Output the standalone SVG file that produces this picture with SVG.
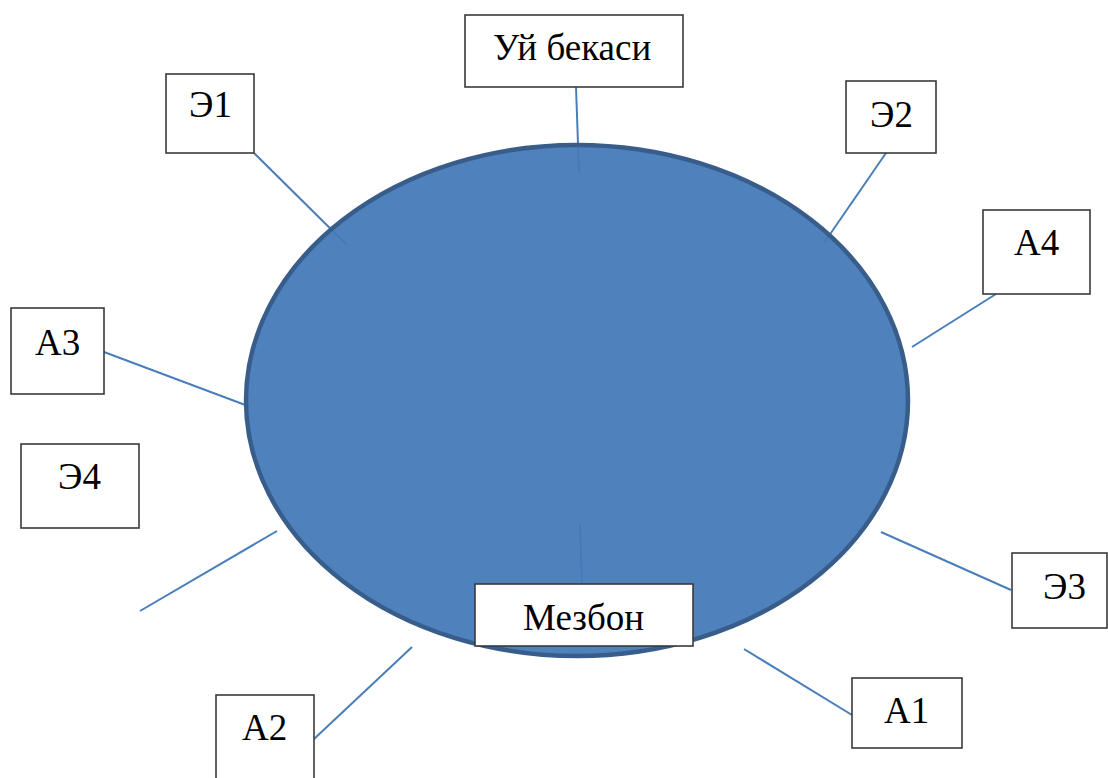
<svg xmlns="http://www.w3.org/2000/svg" width="1108" height="778" viewBox="0 0 1108 778">
<style>
.box{fill:#fff;stroke:#3a3a3a;stroke-width:1.6}
.lbl{font-family:"Liberation Serif","Times New Roman",serif;font-size:37px;fill:#000}
.conn{stroke:#4a7ebb;stroke-width:2;fill:none}
</style>
<rect width="1108" height="778" fill="#fff"/>
<g id="connectors">
<line class="conn" x1="576" y1="87" x2="579" y2="172"/>
<line class="conn" x1="254" y1="153" x2="347" y2="245"/>
<line class="conn" x1="886" y1="153" x2="824" y2="243"/>
<line class="conn" x1="996" y1="294" x2="912" y2="347"/>
<line class="conn" x1="104" y1="352" x2="248" y2="406"/>
<line class="conn" x1="277" y1="531" x2="140" y2="611"/>
<line class="conn" x1="314" y1="739" x2="412" y2="647"/>
<line class="conn" x1="881" y1="532" x2="1011" y2="590"/>
<line class="conn" x1="744" y1="649" x2="852" y2="715"/>
<line class="conn" x1="580" y1="524" x2="582" y2="584"/>
</g>
<g id="center">
<ellipse cx="577" cy="400.5" rx="331" ry="255.5" fill="#4278b8" fill-opacity="0.93" stroke="#385d8a" stroke-width="4.5"/>
</g>
<g id="uy-bekasi"><rect class="box" x="465" y="15" width="218" height="72"/><text class="lbl" x="493" y="60">Уй бекаси</text></g>
<g id="e1"><rect class="box" x="166" y="74" width="88" height="79"/><text class="lbl" x="189" y="117">Э1</text></g>
<g id="e2"><rect class="box" x="846" y="81" width="90" height="72"/><text class="lbl" x="870" y="127">Э2</text></g>
<g id="a4"><rect class="box" x="983" y="210" width="107" height="84"/><text class="lbl" x="1014" y="255">А4</text></g>
<g id="a3"><rect class="box" x="11" y="308" width="93" height="86"/><text class="lbl" x="35" y="355">А3</text></g>
<g id="e4"><rect class="box" x="21" y="444" width="118" height="84"/><text class="lbl" x="58" y="489">Э4</text></g>
<g id="e3"><rect class="box" x="1012" y="553" width="95" height="75"/><text class="lbl" x="1043" y="599">Э3</text></g>
<g id="mezbon"><rect class="box" x="475" y="584" width="218" height="62"/><text class="lbl" x="523" y="630">Мезбон</text></g>
<g id="a1"><rect class="box" x="852" y="678" width="110" height="70"/><text class="lbl" x="884" y="723">А1</text></g>
<g id="a2"><rect class="box" x="216" y="695" width="98" height="100"/><text class="lbl" x="242" y="740">А2</text></g>
</svg>
